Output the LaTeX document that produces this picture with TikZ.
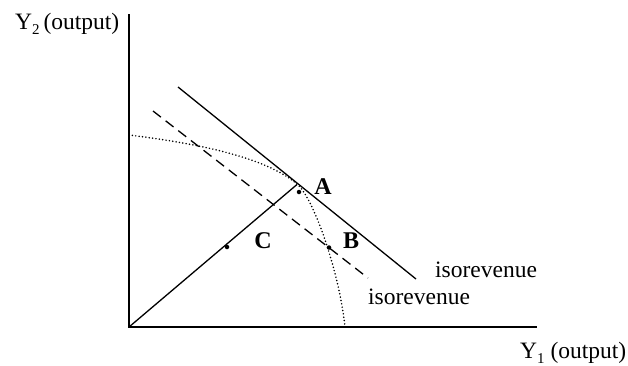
\documentclass[tikz,border=0pt]{standalone}
\usepackage{fontspec}
\setmainfont{Liberation Serif}
\begin{document}
\begin{tikzpicture}[x=1pt,y=-1pt,
  axisline/.style={line width=1.6pt},
  isoline/.style={line width=1.3pt},
  dashline/.style={line width=1.3pt,dash pattern=on 10pt off 6pt},
  ppf/.style={line width=1.7pt,line cap=round,dash pattern=on 0pt off 3.4pt},
  lbl/.style={font=\fontsize{23.5}{26}\selectfont,inner sep=0pt},
  pt/.style={font=\fontsize{24}{26}\selectfont\bfseries,inner sep=0pt},
  dotmark/.style={circle,fill=black,inner sep=0pt,minimum size=4.5pt}]
\useasboundingbox (0,0) rectangle (628,365);
% axes
\coordinate (O) at (129,327);
\coordinate (ytop) at (129,14);
\coordinate (xend) at (537,327);
\draw[axisline] (ytop) -- (O) -- (xend);
% isorevenue lines
\coordinate (s1) at (178,87);
\coordinate (s2) at (416,279);
\draw[isoline] (s1) -- (s2);
\coordinate (d1) at (153,111);
\coordinate (d2) at (368,278);
\draw[dashline] (d1) -- (d2);
% ray from origin
\coordinate (Aray) at (297,184.5);
\draw[isoline] (O) -- (Aray);
% production possibility frontier
\coordinate (p0) at (129,135);
\coordinate (pA) at (298,185);
\coordinate (p1) at (345,327);
\draw[ppf] (p0) .. controls (210,145) and (270,160) .. (pA)
  .. controls (313,198) and (339,270) .. (p1);
% dots
\node[dotmark] (Adot) at (299,192) {};
\node[dotmark] (Bdot) at (329,247.5) {};
\node[dotmark] (Cdot) at (227,247) {};
% point labels
\node[pt] (A) at (323,187) {A};
\node[pt] (B) at (351,241) {B};
\node[pt] (C) at (263,241) {C};
% texts
\node[lbl,anchor=base west] (iso1) at (435,277) {isorevenue};
\node[lbl,anchor=base west] (iso2) at (368,304) {isorevenue};
\node[lbl,anchor=base west] (y2) at (15,29) {Y\raisebox{-0.22em}{\fontsize{15}{15}\selectfont 2}\,(output)};
\node[lbl,anchor=base west] (y1) at (520,358) {Y\raisebox{-0.22em}{\fontsize{15}{15}\selectfont 1} (output)};
\end{tikzpicture}
\end{document}
